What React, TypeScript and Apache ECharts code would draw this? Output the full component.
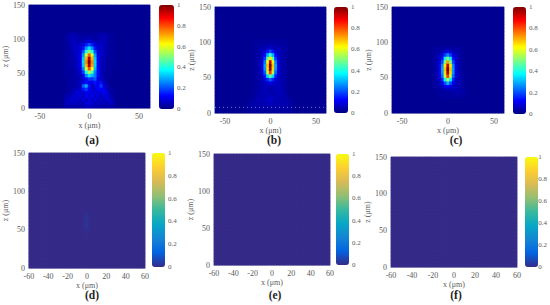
import React, { useEffect, useRef } from "react";
import * as echarts from "echarts";

// Cell centres of every map, in micrometres
const xCells = [-60,-57,-54,-51,-48,-45,-42,-39,-36,-33,-30,-27,-24,-21,-18,-15,-12,-9,-6,-3,0,3,6,9,12,15,18,21,24,27,30,33,36,39,42,45,48,51,54,57,60];
const zCells = [2.5,7.5,12.5,17.5,22.5,27.5,32.5,37.5,42.5,47.5,52.5,57.5,62.5,67.5,72.5,77.5,82.5,87.5,92.5,97.5,102.5,107.5,112.5,117.5,122.5,127.5,132.5,137.5,142.5,147.5];
// Columns of the hand-read windows below
const windowX = [-24,-21,-18,-15,-12,-9,-6,-3,0,3,6,9,12,15,18,21,24];

// Rows are listed from the top of each window downwards
const topA = 107.5;
const spotA = [
  [.03,.04,.05,.05,.04,.03,.03,.03,.03,.03,.03,.04,.05,.05,.04,.03,.03],
  [.03,.04,.05,.06,.05,.04,.03,.04,.05,.04,.03,.04,.05,.06,.04,.03,.03],
  [.03,.04,.06,.06,.05,.05,.05,.07,.09,.07,.05,.05,.06,.06,.04,.03,.03],
  [.03,.03,.05,.07,.06,.07,.09,.15,.20,.15,.09,.07,.07,.06,.04,.03,.03],
  [.03,.03,.05,.07,.07,.08,.14,.27,.35,.27,.14,.08,.07,.06,.04,.03,.03],
  [.03,.03,.05,.06,.07,.09,.20,.40,.52,.40,.20,.09,.07,.06,.04,.03,.03],
  [.03,.03,.04,.06,.07,.11,.28,.58,.78,.58,.28,.11,.07,.06,.04,.03,.03],
  [.03,.03,.04,.05,.07,.12,.32,.70,.95,.70,.32,.12,.07,.05,.03,.03,.03],
  [.03,.03,.04,.05,.06,.12,.34,.74,1.0,.74,.34,.12,.06,.05,.03,.03,.03],
  [.03,.03,.04,.05,.06,.12,.32,.70,.95,.72,.33,.12,.06,.05,.03,.03,.03],
  [.03,.03,.03,.05,.06,.10,.26,.58,.80,.62,.30,.12,.06,.05,.03,.03,.02],
  [.03,.03,.03,.04,.05,.08,.18,.40,.55,.44,.25,.13,.06,.04,.03,.03,.02],
  [.03,.03,.03,.04,.05,.06,.12,.26,.35,.30,.24,.13,.06,.04,.03,.03,.02],
  [.02,.03,.03,.04,.04,.05,.08,.13,.18,.17,.21,.10,.07,.05,.03,.02,.02],
  [.02,.03,.03,.04,.05,.06,.10,.14,.10,.10,.14,.10,.14,.06,.04,.02,.02],
  [.02,.03,.03,.04,.05,.06,.22,.30,.14,.06,.10,.12,.18,.10,.05,.03,.02],
  [.02,.03,.04,.05,.06,.08,.14,.18,.12,.08,.08,.12,.12,.12,.06,.04,.03],
  [.03,.04,.05,.06,.10,.07,.08,.10,.12,.07,.10,.08,.08,.12,.08,.05,.03],
  [.04,.05,.06,.09,.06,.10,.06,.12,.07,.12,.06,.10,.06,.08,.09,.06,.04],
  [.05,.06,.09,.06,.09,.05,.10,.06,.10,.06,.10,.05,.08,.05,.08,.08,.05],
  [.05,.07,.06,.07,.05,.07,.05,.08,.10,.08,.05,.07,.05,.07,.05,.07,.06],
  [.04,.04,.04,.04,.04,.05,.05,.06,.07,.06,.05,.05,.04,.04,.04,.04,.04],
];

const topB = 102.5;
const spotB = [
  [.02,.02,.03,.03,.03,.03,.03,.03,.03,.03,.03,.03,.03,.03,.03,.02,.02],
  [.02,.02,.03,.03,.03,.03,.03,.04,.04,.04,.03,.03,.03,.03,.03,.02,.02],
  [.02,.02,.03,.03,.04,.05,.05,.06,.07,.06,.05,.05,.04,.04,.03,.02,.02],
  [.02,.02,.03,.03,.04,.06,.08,.14,.20,.14,.08,.06,.05,.04,.03,.02,.02],
  [.02,.02,.03,.03,.04,.07,.13,.30,.42,.30,.13,.07,.05,.04,.03,.02,.02],
  [.02,.02,.03,.03,.05,.08,.18,.46,.65,.46,.18,.08,.05,.04,.03,.02,.02],
  [.02,.02,.03,.03,.05,.10,.25,.62,.92,.62,.25,.10,.05,.04,.03,.02,.02],
  [.02,.02,.03,.03,.05,.10,.28,.68,1.0,.68,.28,.10,.05,.04,.03,.02,.02],
  [.02,.02,.03,.03,.05,.10,.27,.66,.98,.66,.27,.10,.05,.04,.03,.02,.02],
  [.02,.02,.03,.03,.05,.09,.22,.55,.82,.55,.22,.09,.05,.04,.03,.02,.02],
  [.02,.02,.03,.03,.04,.07,.15,.34,.48,.34,.15,.07,.05,.04,.03,.02,.02],
  [.02,.02,.03,.03,.04,.06,.09,.16,.22,.16,.09,.06,.05,.04,.03,.02,.02],
  [.02,.02,.03,.03,.04,.05,.06,.08,.10,.08,.06,.06,.05,.04,.03,.02,.02],
  [.02,.02,.03,.03,.04,.05,.06,.05,.05,.05,.06,.06,.05,.04,.03,.02,.02],
  [.02,.02,.03,.03,.04,.05,.06,.05,.04,.05,.05,.06,.06,.04,.03,.02,.02],
  [.02,.02,.03,.04,.05,.05,.05,.05,.05,.05,.05,.05,.06,.05,.03,.02,.02],
  [.02,.03,.03,.04,.05,.05,.05,.06,.07,.06,.05,.05,.05,.05,.04,.03,.02],
  [.03,.03,.04,.05,.05,.05,.05,.06,.08,.06,.05,.05,.05,.05,.05,.04,.03],
  [.03,.04,.04,.05,.04,.05,.05,.05,.06,.05,.05,.05,.04,.05,.05,.04,.03],
  [.03,.04,.04,.04,.04,.04,.04,.04,.04,.04,.04,.04,.04,.04,.04,.04,.03],
  [.03,.03,.03,.03,.03,.03,.03,.03,.03,.03,.03,.03,.03,.03,.03,.03,.03],
];

const topC = 92.5;
const spotC = [
  [.02,.02,.02,.03,.03,.03,.03,.03,.04,.03,.03,.03,.03,.03,.02,.02,.02],
  [.02,.02,.02,.03,.03,.04,.05,.07,.10,.07,.05,.05,.04,.03,.02,.02,.02],
  [.02,.02,.02,.03,.04,.06,.09,.18,.26,.18,.09,.06,.05,.03,.02,.02,.02],
  [.02,.02,.02,.03,.05,.07,.14,.36,.50,.36,.14,.07,.05,.03,.02,.02,.02],
  [.02,.02,.02,.03,.05,.09,.20,.50,.72,.50,.20,.09,.05,.03,.02,.02,.02],
  [.02,.02,.02,.03,.05,.10,.26,.64,.92,.64,.26,.10,.05,.03,.02,.02,.02],
  [.02,.02,.02,.03,.05,.10,.28,.68,1.0,.68,.28,.10,.05,.03,.02,.02,.02],
  [.02,.02,.02,.03,.05,.10,.27,.66,.96,.66,.27,.10,.05,.04,.02,.02,.02],
  [.02,.02,.02,.03,.05,.09,.23,.56,.82,.56,.23,.09,.05,.04,.03,.02,.02],
  [.02,.02,.02,.03,.04,.07,.16,.38,.55,.38,.16,.07,.05,.04,.03,.02,.02],
  [.02,.02,.02,.03,.03,.06,.10,.20,.30,.20,.10,.07,.05,.04,.03,.02,.02],
  [.02,.02,.02,.03,.03,.05,.06,.09,.12,.09,.07,.06,.05,.04,.03,.02,.02],
  [.02,.02,.02,.02,.03,.03,.03,.04,.05,.04,.05,.05,.05,.04,.03,.03,.02],
  [.02,.02,.02,.02,.02,.03,.03,.03,.03,.03,.03,.04,.04,.04,.03,.03,.02],
  [.02,.02,.02,.02,.02,.02,.03,.03,.03,.03,.03,.03,.03,.03,.03,.02,.02],
];

const topD = 72.5;
const spotD = [
  [0,0,0,0,0,0,0,.004,.008,.004,0,0,0,0,0,0,0],
  [0,0,0,0,0,0,0,.006,.014,.006,0,0,0,0,0,0,0],
  [0,0,0,0,0,0,0,.008,.02,.008,0,0,0,0,0,0,0],
  [0,0,0,0,0,0,0,.008,.022,.008,0,0,0,0,0,0,0],
  [0,0,0,0,0,0,0,.008,.018,.008,0,0,0,0,0,0,0],
  [0,0,0,0,0,0,0,.004,.008,.004,0,0,0,0,0,0,0],
];

// Values outside each window
const backgroundJet = 0.02;
const backgroundParula = 0;

// Dotted trace near the bottom of panel (b)
const traceB = [[-61, 8], [61, 8]];

// Ticks and labels
const ticksXWide = [-50, 0, 50];
const ticksXNarrow = [-60, -40, -20, 0, 20, 40, 60];
const captions = ["(a)", "(b)", "(c)", "(d)", "(e)", "(f)"];
const xAxisName = "x (μm)";
const zAxisName = "z (μm)";

const JET = ["#00007f","#0000ff","#007fff","#00ffff","#7fff7f","#ffff00","#ff7f00","#ff0000","#7f0000"];
const PARULA = ["#352a87","#0363e1","#1485d4","#06a7c6","#38b99e","#92bf73","#d9ba56","#fccf30","#f9fb0e"];

const FONT = "Liberation Serif";
const TEXT = "#5a5a5a";
const FRAME = "#9a9ac4";

function buildCells(spot: number[][], top: number, background: number) {
  const cells: [number, number, number][] = [];
  xCells.forEach((x, i) => {
    zCells.forEach((z, j) => {
      const col = windowX.indexOf(x);
      const row = Math.round((top - z) / 5);
      const inside = col >= 0 && row >= 0 && row < spot.length;
      cells.push([i, j, inside ? spot[row][col] : background]);
    });
  });
  return cells;
}

const panels = [
  { caption: captions[0], spot: spotA, top: topA, bg: backgroundJet, colors: JET, under: "#000093", ticks: ticksXWide, range: 61, box: [28, 5, 122, 103], bar: [159, 5, 15, 104], cap: [92, 140], nameY: 16 },
  { caption: captions[1], spot: spotB, top: topB, bg: backgroundJet, colors: JET, under: "#000093", ticks: ticksXWide, range: 61, box: [215, 7, 111, 106], bar: [334, 7, 14, 106], cap: [274, 140], nameY: 16 },
  { caption: captions[2], spot: spotC, top: topC, bg: backgroundJet, colors: JET, under: "#000093", ticks: ticksXWide, range: 61, box: [392, 7, 112, 106], bar: [513, 7, 13, 107], cap: [456, 140], nameY: 16 },
  { caption: captions[3], spot: spotD, top: topD, bg: backgroundParula, colors: PARULA, under: "#352a87", ticks: ticksXNarrow, range: 60, box: [24, 153, 121, 115], bar: [152, 153, 13, 114], cap: [92, 295], nameY: 12 },
  { caption: captions[4], spot: [] as number[][], top: 0, bg: backgroundParula, colors: PARULA, under: "#352a87", ticks: ticksXNarrow, range: 60, box: [214, 154, 116, 111], bar: [336, 154, 13, 111], cap: [275, 295], nameY: 12 },
  { caption: captions[5], spot: [] as number[][], top: 0, bg: backgroundParula, colors: PARULA, under: "#352a87", ticks: ticksXNarrow, range: 60, box: [391, 157, 126, 110], bar: [525, 157, 13, 110], cap: [456, 295], nameY: 12 },
];

function buildOption() {
  const grid: any[] = [];
  const xAxis: any[] = [];
  const yAxis: any[] = [];
  const series: any[] = [];
  const visualMap: any[] = [];
  const graphic: any[] = [];
  const labelStyle = { fontFamily: FONT, fontSize: 8, color: TEXT };
  const line = { show: true, onZero: false, lineStyle: { color: FRAME, width: 1 } };
  let traceX = 0;
  let traceY = 0;

  panels.forEach((p, i) => {
    const g = grid.length;
    const [l, t, w, h] = p.box;
    grid.push({
      left: l, top: t, width: w, height: h, containLabel: false,
      show: true, backgroundColor: p.under, borderColor: FRAME, borderWidth: 1,
    });
    const [bl, bt, bw, bh] = p.bar;
    grid.push({ left: bl, top: bt, width: bw, height: bh, containLabel: false });

    const catX = xAxis.length;
    xAxis.push({ type: "category", gridIndex: g, data: xCells, show: false });
    const valX = xAxis.length;
    xAxis.push({
      type: "value", gridIndex: g, min: -p.range, max: p.range,
      position: "bottom", splitLine: { show: false }, axisLine: line, axisTick: { show: false },
      axisLabel: { ...labelStyle, margin: 4, customValues: p.ticks },
      name: xAxisName, nameLocation: "middle", nameGap: 13,
      nameTextStyle: { ...labelStyle },
    });
    const catY = yAxis.length;
    yAxis.push({ type: "category", gridIndex: g, data: zCells, show: false });
    const valY = yAxis.length;
    yAxis.push({
      type: "value", gridIndex: g, min: 0, max: 150, interval: 50, position: "left",
      splitLine: { show: false }, axisLine: line, axisTick: { show: false },
      axisLabel: { ...labelStyle, margin: 4 },
      name: zAxisName, nameLocation: "middle", nameGap: p.nameY, nameRotate: 90,
      nameTextStyle: { ...labelStyle },
    });
    if (i === 1) {
      traceX = valX;
      traceY = valY;
    }

    xAxis.push({ type: "value", gridIndex: g + 1, min: 0, max: 1, show: false });
    yAxis.push({
      type: "value", gridIndex: g + 1, min: 0, max: 1, interval: 0.2, position: "right",
      splitLine: { show: false }, axisLine: { show: false }, axisTick: { show: false },
      axisLabel: { ...labelStyle, fontSize: 7, margin: 3 },
    });

    series.push({
      type: "heatmap", xAxisIndex: catX, yAxisIndex: catY,
      data: buildCells(p.spot, p.top, p.bg), progressive: 0, silent: true,
      itemStyle: { borderWidth: 0 },
    });
    visualMap.push({
      type: "continuous", seriesIndex: i, min: 0, max: 1, calculable: false,
      left: bl, top: bt, itemWidth: bw, itemHeight: bh, padding: 0, text: [],
      inRange: { color: p.colors }, hoverLink: false,
    });
    graphic.push({
      type: "text", x: p.cap[0], y: p.cap[1],
      style: {
        text: p.caption, font: `bold 11.5px "${FONT}"`, fill: "#222",
        textAlign: "center", textVerticalAlign: "middle",
      },
    });
  });

  series.push({
    type: "line", xAxisIndex: traceX, yAxisIndex: traceY, data: traceB, symbol: "none", z: 6,
    silent: true, lineStyle: { color: "rgba(220,220,255,0.5)", width: 1, type: [1, 3] },
  });

  return { animation: false, backgroundColor: "#fff", grid, xAxis, yAxis, series, visualMap, graphic };
}

export default function App() {
  const ref = useRef<HTMLDivElement>(null);
  useEffect(() => {
    const chart = echarts.init(ref.current!, undefined, { renderer: "svg" });
    chart.setOption(buildOption());
    return () => chart.dispose();
  }, []);
  return <div ref={ref} style={{ position: "fixed", left: 0, top: 0, width: 550, height: 305 }} />;
}
